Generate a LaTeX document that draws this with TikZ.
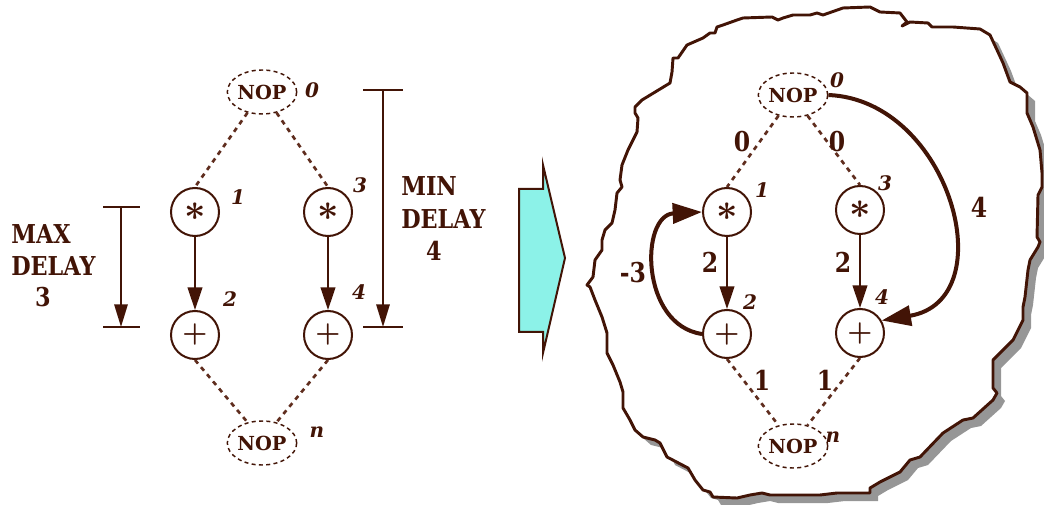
\documentclass[tikz,border=0pt]{standalone}
\usepackage{fontspec}
\setmainfont{DejaVu Serif}
\newfontfamily\condf{DejaVu Serif}[FakeStretch=0.86]
\usetikzlibrary{arrows.meta,shapes.geometric}
\definecolor{brn}{RGB}{66,20,6}
\definecolor{dbrn}{RGB}{95,45,30}
\definecolor{cyanf}{RGB}{140,242,232}
\definecolor{shd}{RGB}{150,150,150}
\begin{document}
\begin{tikzpicture}[x=0.75pt,y=-0.75pt,
 op/.style={circle,draw=brn,line width=1.5pt,minimum size=36pt,inner sep=0pt,text=brn},
 nop/.style={ellipse,draw=brn,dash pattern=on 3pt off 2.5pt,line width=1.1pt,minimum width=42pt,minimum height=33pt,inner sep=0pt,text=brn,font=\fontsize{14.5}{15}\selectfont\bfseries},
 idx/.style={text=brn,font=\fontsize{15}{16}\selectfont\bfseries\itshape,inner sep=0pt},
 wt/.style={text=brn,font=\condf\fontsize{20.5}{22}\selectfont\bfseries,inner sep=0pt},
 lab/.style={text=brn,font=\condf\fontsize{19.5}{22}\selectfont\bfseries,inner sep=0pt},
 dep/.style={draw=dbrn,line width=2pt,dash pattern=on 3.5pt off 3.5pt},
 flow/.style={draw=brn,line width=1.5pt,-{Triangle[length=17pt,width=11pt]}},
 big/.style={draw=brn,line width=3pt,-{Triangle[length=22pt,width=15pt]}},
 bar/.style={draw=brn,line width=1.5pt},
 blob/.style={insert path={(620,180) -- (622,165) -- (628,150) -- (637,132) -- (638,118) -- (635,113) -- (635,107) -- (642,100) -- (670,83) -- (672,72) -- (673,58) -- (678,58) -- (687,45) -- (703,38) -- (710,33) -- (715,33) -- (717,27) -- (723,25) -- (737,20) -- (743,18) -- (772,17) -- (778,20) -- (783,18) -- (793,15) -- (810,15) -- (817,13) -- (823,15) -- (843,8) -- (870,7) -- (880,12) -- (900,13) -- (907,22) -- (902,26) -- (910,22) -- (928,23) -- (932,27) -- (940,27) -- (953,27) -- (980,29) -- (990,35) -- (997,50) -- (1003,63) -- (1010,82) -- (1020,87) -- (1027,93) -- (1027,113) -- (1033,127) -- (1040,150) -- (1042,173) -- (1042,187) -- (1038,195) -- (1037,237) -- (1040,242) -- (1038,247) -- (1030,260) -- (1028,270) -- (1025,297) -- (1023,307) -- (1023,320) -- (1013,340) -- (993,360) -- (993,388) -- (997,393) -- (993,400) -- (973,418) -- (963,420) -- (943,433) -- (920,457) -- (910,460) -- (900,472) -- (880,482) -- (870,488) -- (870,493) -- (837,493) -- (820,495) -- (770,495) -- (762,493) -- (750,495) -- (737,498) -- (713,497) -- (710,492) -- (703,490) -- (695,480) -- (688,468) -- (667,457) -- (660,443) -- (655,440) -- (643,437) -- (635,430) -- (630,420) -- (623,408) -- (623,392) -- (620,382) -- (613,365) -- (607,353) -- (607,333) -- (602,317) -- (595,300) -- (590,287) -- (587,285) -- (593,277) -- (595,260) -- (602,250) -- (602,240) -- (605,230) -- (612,223) -- (615,210) -- (617,193) -- (622,187) -- cycle}},
]
\useasboundingbox (0,0) rectangle (1044,505);
\newcommand{\astsym}{\scalebox{2.8}{\boldmath$\ast$}}
\newcommand{\plussym}{\scalebox{2.1}{\boldmath$+$}}

% ---------- left graph ----------
\node[nop] (L0) at (262,92) {NOP};
\node[op] (L1) at (195,212) {\astsym};
\node[op] (L3) at (328,212) {\astsym};
\node[op] (L2) at (195,335) {\plussym};
\node[op] (L4) at (328,335) {\plussym};
\node[nop] (Ln) at (262,443) {NOP};

\node[idx] (l0) at (312,90) {0};
\node[idx] (l1) at (238,197) {1};
\node[idx] (l3) at (360,185) {3};
\node[idx] (l2) at (230,299) {2};
\node[idx] (l4) at (359,292) {4};
\node[idx] (ln) at (317,432) {n};

\draw[dep] (L0.235) -- (L1.north);
\draw[dep] (L0.305) -- (L3.north);
\draw[dep] (L2.south) -- (Ln.125);
\draw[dep] (L4.south) -- (Ln.55);
\draw[flow] (L1.south) -- (L2.north);
\draw[flow] (L3.south) -- (L4.north);

% MAX DELAY bracket
\coordinate (mxt) at (121,207);
\coordinate (mxb) at (121,327);
\draw[bar] (103,207) -- (140,207);
\draw[bar] (103,327) -- (140,327);
\draw[bar,-{Triangle[length=17pt,width=10pt]}] (mxt) -- (mxb);
\node[lab,anchor=west] (maxa) at (11,234) {MAX};
\node[lab,anchor=west] (maxb) at (11,266) {DELAY};
\node[lab] (maxc) at (43,297) {3};

% MIN DELAY bracket
\coordinate (mnt) at (383,90);
\coordinate (mnb) at (383,327);
\draw[bar] (363,90) -- (403,90);
\draw[bar] (363,327) -- (403,327);
\draw[bar,-{Triangle[length=17pt,width=10pt]}] (mnt) -- (mnb);
\node[lab,anchor=west] (mina) at (401,186) {MIN};
\node[lab,anchor=west] (minb) at (401,219) {DELAY};
\node[lab] (minc) at (434,251) {4};

% big arrow
\draw[draw=brn,fill=cyanf,line width=1.5pt,line join=miter]
  (519,189) -- (543,189) -- (543,165) -- (565,258) -- (543,353) -- (543,332) -- (519,332) -- cycle;

% ---------- blob ----------
\fill[shd,shift={(8,8)},blob];
\draw[draw=brn,fill=white,line width=2.2pt,line join=round,blob];

% ---------- right graph ----------
\node[nop] (R0) at (793,95) {NOP};
\node[op] (R1) at (727,212) {\astsym};
\node[op] (R3) at (860,210) {\astsym};
\node[op] (R2) at (727,334) {\plussym};
\node[op] (R4) at (860,333) {\plussym};
\node[nop] (Rn) at (793,446) {NOP};

\node[idx] (r0) at (837,80) {0};
\node[idx] (r1) at (762,190) {1};
\node[idx] (r3) at (885,183) {3};
\node[idx] (r2) at (750,302) {2};
\node[idx] (r4) at (882,297) {4};
\node[idx] (rn) at (833,437) {n};

\draw[dep] (R0.235) -- (R1.north);
\draw[dep] (R0.305) -- (R3.north);
\draw[dep] (R2.south) -- (Rn.125);
\draw[dep] (R4.south) -- (Rn.55);
\draw[flow] (R1.south) -- (R2.north);
\draw[flow] (R3.south) -- (R4.north);
\draw[big] (R2.west) .. controls (640,325) and (640,215) .. (R1.west);
\draw[big] (R0.east) .. controls (950,100) and (1005,300) .. (R4.30);

\node[wt] (w1) at (742,142) {0};
\node[wt] (w2) at (837,142) {0};
\node[wt] (w3) at (710,262) {2};
\node[wt] (w4) at (843,262) {2};
\node[wt] (w5) at (633,273) {-3};
\node[wt] (w6) at (979,207) {4};
\node[wt] (w7) at (762,380) {1};
\node[wt] (w8) at (825,380) {1};
\end{tikzpicture}
\end{document}
